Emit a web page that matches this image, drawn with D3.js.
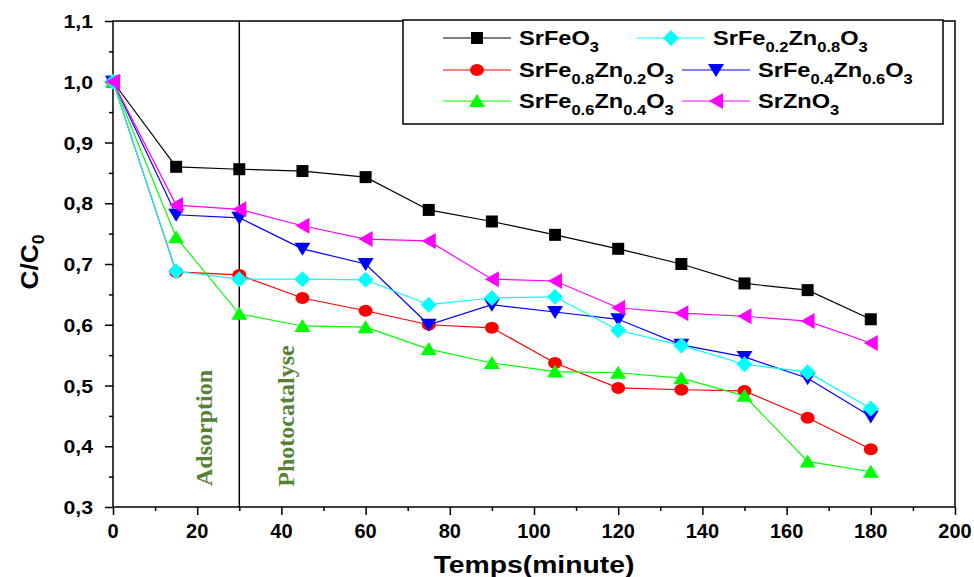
<!DOCTYPE html>
<html lang="en">
<head>
<meta charset="UTF-8">
<title>C/C0 vs Temps</title>
<script src="https://d3js.org/d3.v7.min.js"></script>
<style>
  body { margin: 0; background: #fff; }
  text { font-family: "Liberation Sans", Arial, sans-serif; }
</style>
</head>
<body>
<div id="chart"></div>
<script>
// time values (minutes)
var times = [0, 15, 30, 45, 60, 75, 90, 105, 120, 135, 150, 165, 180];

// C/C0 per sample
var srFeO3    = [1.0, 0.860, 0.856, 0.853, 0.843, 0.789, 0.770, 0.748, 0.725, 0.700, 0.668, 0.657, 0.609];
var fe02zn08  = [1.0, 0.688, 0.675, 0.675, 0.674, 0.633, 0.644, 0.646, 0.591, 0.566, 0.535, 0.522, 0.462];
var fe08zn02  = [1.0, 0.687, 0.682, 0.644, 0.623, 0.600, 0.595, 0.537, 0.496, 0.493, 0.491, 0.447, 0.395];
var fe04zn06  = [1.0, 0.781, 0.776, 0.725, 0.700, 0.600, 0.633, 0.621, 0.609, 0.567, 0.547, 0.512, 0.449];
var fe06zn04  = [1.0, 0.744, 0.618, 0.598, 0.596, 0.560, 0.537, 0.523, 0.521, 0.512, 0.483, 0.375, 0.358];
var srZnO3    = [1.0, 0.797, 0.790, 0.763, 0.741, 0.738, 0.675, 0.672, 0.628, 0.619, 0.614, 0.606, 0.570];

var xTicks = [0, 20, 40, 60, 80, 100, 120, 140, 160, 180, 200];
var yTicks = [0.3, 0.4, 0.5, 0.6, 0.7, 0.8, 0.9, 1.0, 1.1];

var series = [
  {name: "SrFeO_{3}",               values: srFeO3,   color: "#000000", symbol: "square",   legend: [443, 38]},
  {name: "SrFe_{0.8}Zn_{0.2}O_{3}", values: fe08zn02, color: "#ff0000", symbol: "circle",   legend: [443, 70]},
  {name: "SrFe_{0.4}Zn_{0.6}O_{3}", values: fe04zn06, color: "#0000ff", symbol: "down",     legend: [682, 70]},
  {name: "SrFe_{0.6}Zn_{0.4}O_{3}", values: fe06zn04, color: "#00ff00", symbol: "up",       legend: [443, 101]},
  {name: "SrFe_{0.2}Zn_{0.8}O_{3}", values: fe02zn08, color: "#00ffff", symbol: "diamond",  legend: [637, 38]},
  {name: "SrZnO_{3}",               values: srZnO3,   color: "#ff00ff", symbol: "left",     legend: [682, 101]}
];

var W = 974, H = 577;
var mLeft = 113, mRight = 955, mTop = 21, mBottom = 507;

var svg = d3.select("#chart").append("svg")
  .attr("width", W).attr("height", H);

var x = d3.scaleLinear().domain([0, 200]).range([mLeft, mRight]);
var y = d3.scaleLinear().domain([0.3, 1.1]).range([mBottom, mTop]);

// frame
svg.append("rect")
  .attr("x", mLeft).attr("y", mTop)
  .attr("width", mRight - mLeft).attr("height", mBottom - mTop)
  .attr("fill", "none").attr("stroke", "#000").attr("stroke-width", 1.5);

// x axis
var xAxis = svg.append("g").attr("transform", "translate(0," + mBottom + ")");
xAxis.call(d3.axisBottom(x).tickValues(d3.range(0, 201, 10)).tickSize(4).tickFormat(""));
xAxis.selectAll(".tick line").filter(function(d){ return d % 20 === 0; }).attr("y2", 8);
xAxis.select(".domain").remove();
xAxis.selectAll(".tick line").attr("stroke-width", 1.5);
svg.append("g").selectAll("text").data(xTicks).join("text")
  .attr("transform", function(d){ return "translate(" + x(d) + ",538)"; })
  .attr("text-anchor", "middle")
  .attr("font-weight", "bold").attr("font-size", 20)
  .text(function(d){ return d; });

// y axis
var yAxis = svg.append("g").attr("transform", "translate(" + mLeft + ",0)");
yAxis.call(d3.axisLeft(y).tickValues(d3.range(0, 17).map(function(i){ return 0.3 + i * 0.05; })).tickSize(4).tickFormat(""));
yAxis.selectAll(".tick line").filter(function(d, i){ return i % 2 === 0; }).attr("x2", -8);
yAxis.select(".domain").remove();
yAxis.selectAll(".tick line").attr("stroke-width", 1.5);
svg.append("g").selectAll("text").data(yTicks).join("text")
  .attr("transform", function(d){ return "translate(93," + (y(d) + 7) + ") scale(1.12,1)"; })
  .attr("text-anchor", "end")
  .attr("font-weight", "bold").attr("font-size", 19)
  .text(function(d){ return d3.format(".1f")(d).replace(".", ","); });

// axis titles
svg.append("text")
  .attr("transform", "translate(" + ((mLeft + mRight) / 2) + ",573) scale(1.18,1)")
  .attr("text-anchor", "middle")
  .attr("font-weight", "bold").attr("font-size", 24)
  .text("Temps(minute)");

var yt = svg.append("text")
  .attr("transform", "translate(38,262) rotate(-90) scale(1.1,1)")
  .attr("text-anchor", "middle")
  .attr("font-weight", "bold").attr("font-size", 24);
yt.append("tspan").text("C/C");
yt.append("tspan").attr("dy", 6).attr("font-size", 16).text("0");

// separator line at 30 min
svg.append("line")
  .attr("x1", x(30)).attr("x2", x(30))
  .attr("y1", mTop).attr("y2", mBottom)
  .attr("stroke", "#000").attr("stroke-width", 1.5);

// annotations
svg.append("text")
  .attr("transform", "translate(212,428) rotate(-90)")
  .attr("text-anchor", "middle")
  .style("font-family", "'Liberation Serif', 'Times New Roman', serif")
  .attr("font-weight", "bold").attr("font-size", 24)
  .attr("fill", "#548235")
  .text("Adsorption");
svg.append("text")
  .attr("transform", "translate(294,416) rotate(-90)")
  .attr("text-anchor", "middle")
  .style("font-family", "'Liberation Serif', 'Times New Roman', serif")
  .attr("font-weight", "bold").attr("font-size", 24)
  .attr("fill", "#548235")
  .text("Photocatalyse");

// marker path builder
function marker(sel, symbol, color) {
  if (symbol === "circle") {
    sel.append("ellipse").attr("rx", 7).attr("ry", 6).attr("fill", color);
  } else {
    var p;
    if (symbol === "square") p = "M-6,-6H6V6H-6Z";
    else if (symbol === "diamond") p = "M0,-8L8,0L0,8L-8,0Z";
    else if (symbol === "up") p = "M0,-7L8,6H-8Z";
    else if (symbol === "down") p = "M-8,-6H8L0,7Z";
    else p = "M-7,0L7,-8V8Z";
    sel.append("path").attr("d", p).attr("fill", color);
  }
}

var line = d3.line()
  .x(function(d, i){ return x(times[i]); })
  .y(function(d){ return y(d); });

series.forEach(function(s) {
  var g = svg.append("g");
  g.append("path").datum(s.values)
    .attr("d", line)
    .attr("fill", "none").attr("stroke", s.color).attr("stroke-width", 1.2);
  g.selectAll("g.pt").data(s.values).join("g")
    .attr("class", "pt")
    .attr("transform", function(d, i){ return "translate(" + x(times[i]) + "," + y(d) + ")"; })
    .each(function(){ marker(d3.select(this), s.symbol, s.color); });
});

// legend
svg.append("rect")
  .attr("x", 403).attr("y", 20).attr("width", 540).attr("height", 104)
  .attr("fill", "#fff").attr("stroke", "#000").attr("stroke-width", 1.5);

function richText(t, str) {
  var parts = str.split(/(_\{[^}]*\})/).filter(function(p){ return p.length; });
  var shifted = false;
  parts.forEach(function(p) {
    if (p.indexOf("_{") === 0) {
      t.append("tspan").attr("font-size", 14).attr("dy", 7).text(p.slice(2, -1));
      shifted = true;
    } else {
      t.append("tspan").attr("font-size", 20).attr("dy", shifted ? -7 : 0).text(p);
      shifted = false;
    }
  });
}

series.forEach(function(s) {
  var lx = s.legend[0], ly = s.legend[1];
  var g = svg.append("g");
  g.append("line").attr("x1", lx).attr("x2", lx + 68).attr("y1", ly).attr("y2", ly)
    .attr("stroke", s.color).attr("stroke-width", 1.2);
  var m = g.append("g").attr("transform", "translate(" + (lx + 34) + "," + ly + ")");
  marker(m, s.symbol, s.color);
  var t = g.append("text")
    .attr("transform", "translate(" + (lx + 76) + "," + (ly + 7) + ") scale(1.18,1)")
    .attr("font-weight", "bold");
  richText(t, s.name);
});
</script>
</body>
</html>
